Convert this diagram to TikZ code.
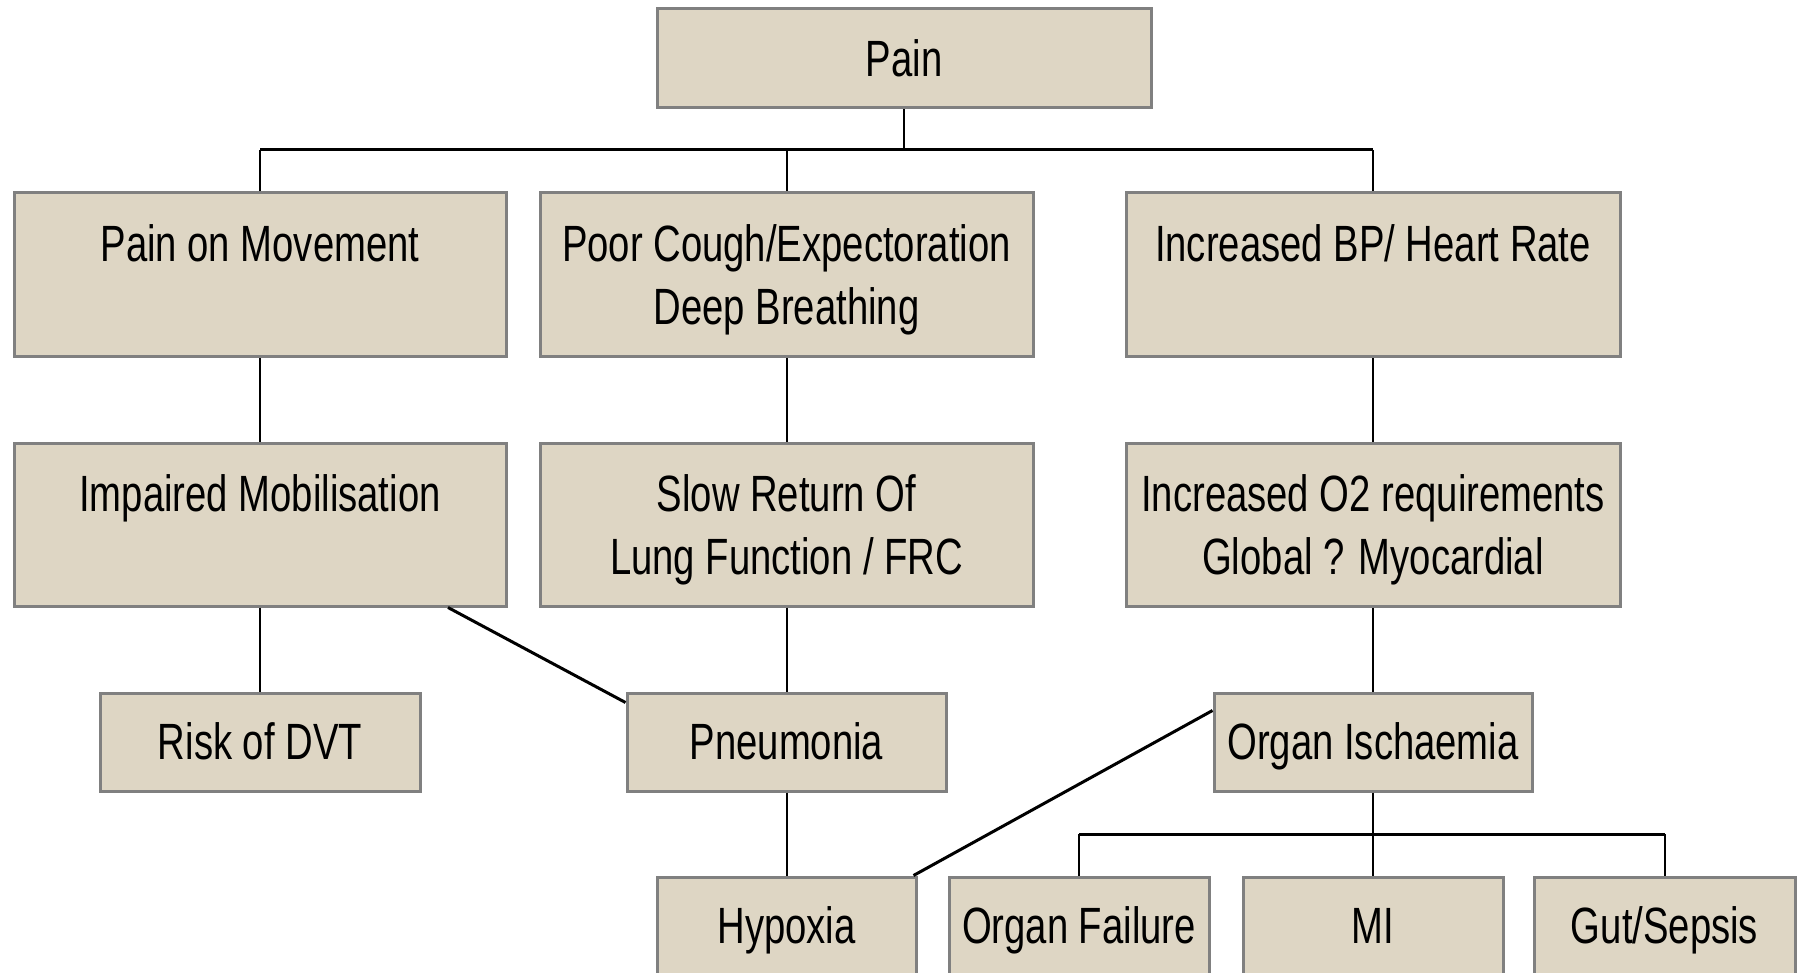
\documentclass[tikz,border=0pt]{standalone}
\usepackage{fontspec}
\setmainfont{Liberation Sans}[FakeStretch=0.75]
\definecolor{boxfill}{HTML}{DED6C4}
\definecolor{boxline}{HTML}{808080}
\tikzset{
  box/.style={draw=boxline, line width=3pt, fill=boxfill, rectangle, inner sep=0pt},
  txt/.style={anchor=base, inner sep=0pt, font=\fontsize{51}{63}\selectfont},
  conn/.style={draw=black, line width=2pt},
  busline/.style={draw=black, line width=3pt},
  diag/.style={draw=black, line width=3pt}
}
\begin{document}
\begin{tikzpicture}[x=1pt,y=-1pt]
\path[use as bounding box] (0,0) rectangle (1801,973);
\clip (0,0) rectangle (1801,973);
% coordinates for buses
\coordinate (busA) at (0,150);
\coordinate (busB) at (0,834);
% boxes
\node[box, minimum width=494, minimum height=99] (pain) at (904,58.5) {};
\node[box, minimum width=492, minimum height=164] (pom) at (260,275) {};
\node[box, minimum width=493, minimum height=164] (cough) at (786.5,275) {};
\node[box, minimum width=494, minimum height=164] (ibp) at (1373,275) {};
\node[box, minimum width=492, minimum height=163] (imp) at (260,524.5) {};
\node[box, minimum width=493, minimum height=163] (slow) at (786.5,524.5) {};
\node[box, minimum width=494, minimum height=163] (otwo) at (1373,524.5) {};
\node[box, minimum width=320, minimum height=98] (dvt) at (260,742) {};
\node[box, minimum width=319, minimum height=98] (pneu) at (786.5,742) {};
\node[box, minimum width=318, minimum height=98] (isch) at (1373,742) {};
\node[box, minimum width=259, minimum height=98] (hyp) at (786.5,926) {};
\node[box, minimum width=260, minimum height=98] (ofail) at (1079,926) {};
\node[box, minimum width=260, minimum height=98] (mi) at (1373,926) {};
\node[box, minimum width=261, minimum height=98] (gut) at (1664.5,926) {};
% texts
\node[txt] (painT) at (904,76.5) {Pain};
\node[txt] (pomT) at (260,261.5) {Pain on Movement};
\node[txt] (coughT1) at (786.5,261.5) {Poor Cough/Expectoration};
\node[txt] (coughT2) at (786.5,324.5) {Deep Breathing};
\node[txt] (ibpT) at (1373,261.5) {Increased BP/ Heart Rate};
\node[txt] (impT) at (260,511) {Impaired Mobilisation};
\node[txt] (slowT1) at (786.5,511) {Slow Return Of};
\node[txt] (slowT2) at (786.5,574) {Lung Function / FRC};
\node[txt] (otwoT1) at (1373,511) {Increased O2 requirements};
\node[txt] (otwoT2) at (1373,574) {Global ? Myocardial};
\node[txt] (dvtT) at (260,759.5) {Risk of DVT};
\node[txt] (pneuT) at (786.5,759.5) {Pneumonia};
\node[txt] (ischT) at (1373,759.5) {Organ Ischaemia};
\node[txt] (hypT) at (786.5,943.5) {Hypoxia};
\node[txt] (ofailT) at (1079,943.5) {Organ Failure};
\node[txt] (miT) at (1373,943.5) {MI};
\node[txt] (gutT) at (1664.5,943.5) {Gut/Sepsis};
% connectors
\draw[conn] (pain.south) -- (pain.south |- busA);
\draw[busline] (pom.north |- busA) -- (ibp.north |- busA);
\draw[conn] (pom.north |- busA) -- (pom.north);
\draw[conn] (cough.north |- busA) -- (cough.north);
\draw[conn] (ibp.north |- busA) -- (ibp.north);
\draw[conn] (pom.south) -- (imp.north);
\draw[conn] (cough.south) -- (slow.north);
\draw[conn] (ibp.south) -- (otwo.north);
\draw[conn] (imp.south) -- (dvt.north);
\draw[conn] (slow.south) -- (pneu.north);
\draw[conn] (otwo.south) -- (isch.north);
\draw[conn] (pneu.south) -- (hyp.north);
\draw[diag] ([xshift=188pt]imp.south) -- ([yshift=-11pt]pneu.north west);
\draw[diag] ([yshift=-19pt]isch.north west) -- ([xshift=-4pt]hyp.north east);
\draw[conn] (isch.south) -- (isch.south |- busB);
\draw[busline] (ofail.north |- busB) -- (gut.north |- busB);
\draw[conn] (ofail.north |- busB) -- (ofail.north);
\draw[conn] (mi.north |- busB) -- (mi.north);
\draw[conn] (gut.north |- busB) -- (gut.north);
\end{tikzpicture}
\end{document}
